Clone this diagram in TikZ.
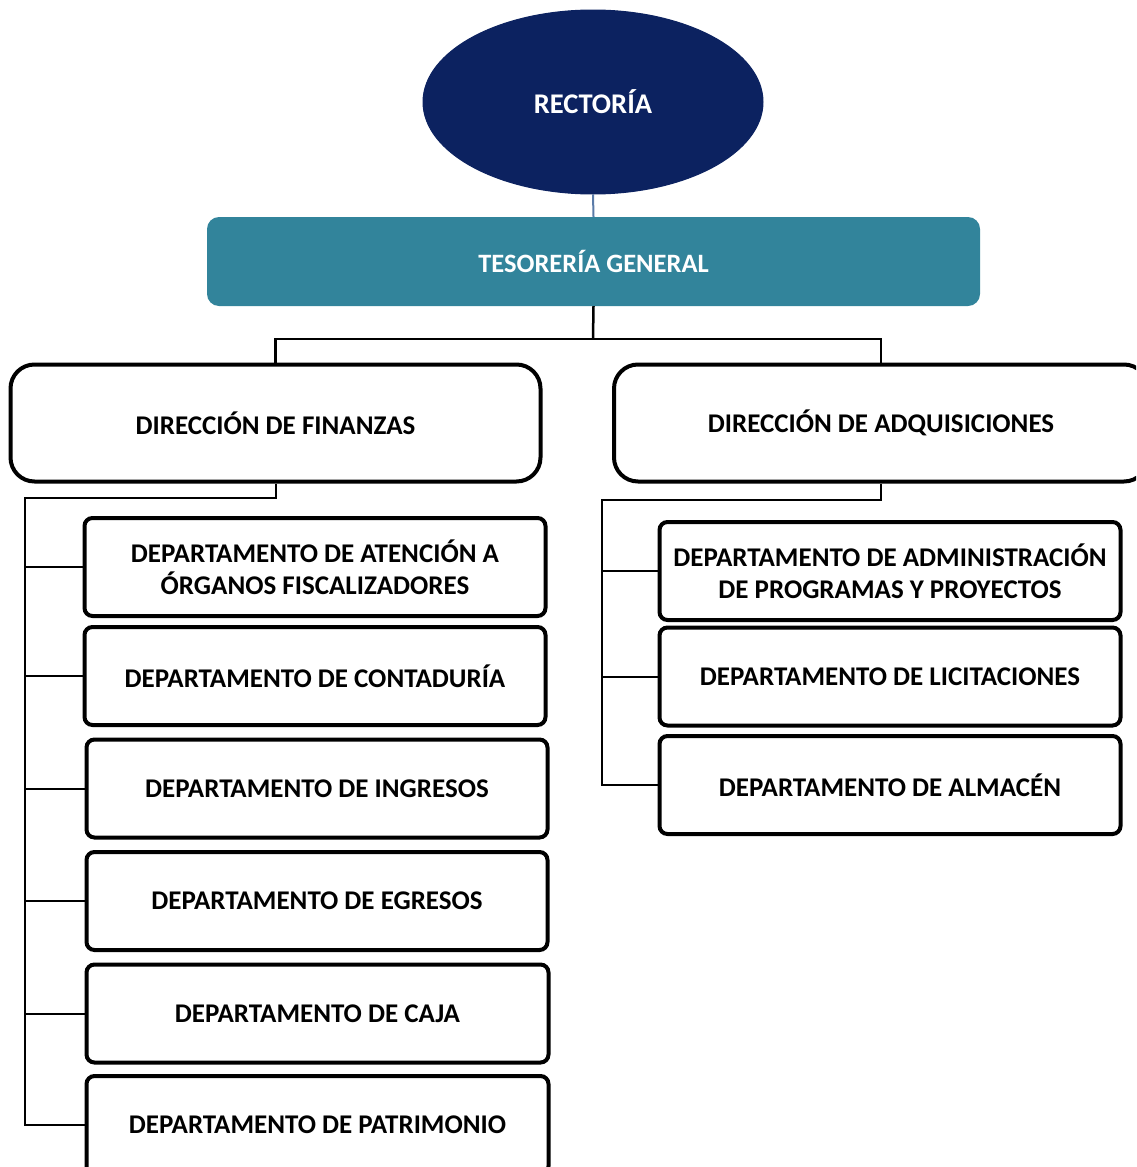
\documentclass[tikz,border=0pt]{standalone}
\usepackage{fontspec}
\setmainfont{Carlito}
\usetikzlibrary{shapes.geometric,calc}
\definecolor{navy}{HTML}{0C2260}
\definecolor{teal}{HTML}{32849B}
\definecolor{linkblue}{HTML}{5A7BA8}
\tikzset{
  lbl/.style={font=\bfseries\fontsize{27}{32}\selectfont, align=center},
  head/.style={ellipse, fill=navy, draw=navy, line width=1pt, text=white,
    font=\bfseries\fontsize{28.5}{34}\selectfont,
    minimum width=340pt, minimum height=184pt, inner sep=0pt},
  treas/.style={rectangle, rounded corners=12pt, fill=teal, text=white,
    font=\bfseries\fontsize{26.5}{32}\selectfont,
    minimum width=773pt, minimum height=89pt, inner sep=0pt},
  dirbox/.style={rectangle, rounded corners=24pt, draw=black, line width=4pt, fill=white, lbl,
    minimum width=530pt, minimum height=117pt, inner sep=0pt},
  deptbox/.style={rectangle, rounded corners=8pt, draw=black, line width=4pt, fill=white, lbl,
    minimum width=461pt, minimum height=98pt, inner sep=0pt},
  link/.style={draw=black, line width=2pt},
}
\begin{document}
\begin{tikzpicture}[x=1pt,y=-1pt]
\useasboundingbox (0,0) rectangle (1136,1167);
\clip (0,0) rectangle (1136,1167);

% top levels
\node[head] (rect) at (593,102) {RECTORÍA};
\node[treas] (tes) at (593.5,261.5) {TESORERÍA GENERAL};

% directorates
\node[dirbox] (fin) at (275.5,423) {DIRECCIÓN DE FINANZAS};
\node[dirbox, minimum width=534pt] (adq) at (881,423) {DIRECCIÓN DE ADQUISICIONES};

% departments under Finanzas
\node[deptbox] (f1) at (315,567) {DEPARTAMENTO DE ATENCIÓN A\\ÓRGANOS FISCALIZADORES};
\node[deptbox] (f2) at (315,676) {DEPARTAMENTO DE CONTADURÍA};
\node[deptbox] (f3) at (317,788.5) {DEPARTAMENTO DE INGRESOS};
\node[deptbox] (f4) at (317,901) {DEPARTAMENTO DE EGRESOS};
\node[deptbox, minimum width=462pt] (f5) at (317.5,1013.5) {DEPARTAMENTO DE CAJA};
\node[deptbox, minimum width=462pt] (f6) at (317.5,1125) {DEPARTAMENTO DE PATRIMONIO};

% departments under Adquisiciones
\node[deptbox] (a1) at (890,571) {DEPARTAMENTO DE ADMINISTRACIÓN\\DE PROGRAMAS Y PROYECTOS};
\node[deptbox] (a2) at (890,676.5) {DEPARTAMENTO DE LICITACIONES};
\node[deptbox] (a3) at (890,785) {DEPARTAMENTO DE ALMACÉN};

% connectors
\coordinate (bus) at (593,339);
\coordinate (fspine) at (25,498);
\coordinate (aspine) at (602,500);

\draw[draw=linkblue, line width=2pt] (rect.south) -- (tes.north);
\draw[link, line width=2.5pt] (tes.south) -- (bus);
\draw[link, line width=2.5pt] (fin.north) |- (bus) -| (adq.north);

\draw[link] (fin.south) |- (fspine) -- (fspine |- f6.west) -- (f6.west);
\foreach \n in {f1,f2,f3,f4,f5}
  \draw[link] (fspine |- \n.west) -- (\n.west);

\draw[link] (adq.south) |- (aspine) -- (aspine |- a3.west) -- (a3.west);
\foreach \n in {a1,a2}
  \draw[link] (aspine |- \n.west) -- (\n.west);
\end{tikzpicture}
\end{document}
